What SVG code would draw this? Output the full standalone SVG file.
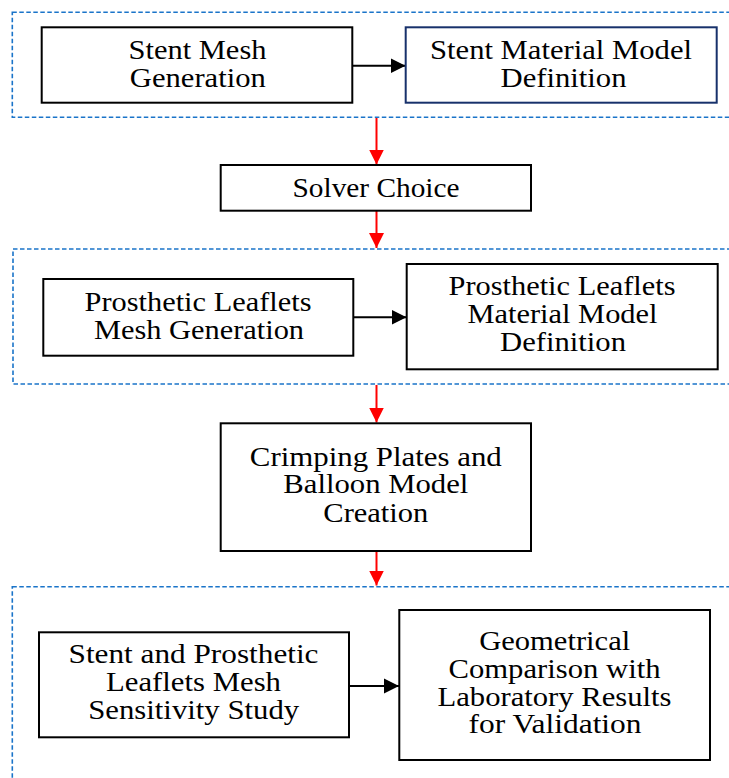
<svg xmlns="http://www.w3.org/2000/svg" width="729" height="778" viewBox="0 0 729 778">
<style>
.grp{fill:none;stroke:#1a74c9;stroke-width:1.6;stroke-dasharray:4.5 2.5}
.box{fill:#fff;stroke:#000;stroke-width:2}
.navy{fill:#fff;stroke:#17316b;stroke-width:2}
text{font-family:'Liberation Serif','DejaVu Serif',serif;font-size:28px;fill:#000;text-anchor:middle}
.blk{stroke:#000;stroke-width:2;fill:none}
.red{stroke:#ff0000;stroke-width:2;fill:none}
</style>
<defs>
<marker id="ab" markerUnits="userSpaceOnUse" markerWidth="16" markerHeight="16" refX="15" refY="8" orient="auto">
<path d="M0,0.5 L15,8 L0,15.5 Z" fill="#000"/>
</marker>
<marker id="ar" markerUnits="userSpaceOnUse" markerWidth="16" markerHeight="16" refX="15" refY="8" orient="auto">
<path d="M0,0.5 L15,8 L0,15.5 Z" fill="#ff0000"/>
</marker>
</defs>
<rect width="729" height="778" fill="#fff"/>
<g id="groups">
<rect class="grp" x="12.3" y="12.3" width="740" height="105"/>
<rect class="grp" x="13" y="249" width="740" height="135"/>
<rect class="grp" x="12.3" y="586.7" width="740" height="220"/>
</g>
<g id="connectors">
<line class="blk" x1="352" y1="65.7" x2="405.5" y2="65.7" marker-end="url(#ab)"/>
<line class="blk" x1="353" y1="317.3" x2="406.5" y2="317.3" marker-end="url(#ab)"/>
<line class="blk" x1="349" y1="686" x2="399" y2="686" marker-end="url(#ab)"/>
<line class="red" x1="376.5" y1="118" x2="376.5" y2="164.5" marker-end="url(#ar)"/>
<line class="red" x1="376.5" y1="210.7" x2="376.5" y2="248" marker-end="url(#ar)"/>
<line class="red" x1="376.5" y1="385" x2="376.5" y2="422.5" marker-end="url(#ar)"/>
<line class="red" x1="376.5" y1="551" x2="376.5" y2="585.5" marker-end="url(#ar)"/>
</g>
<g id="n1">
<rect class="box" x="41.7" y="27.3" width="310.6" height="75.4"/>
<text x="197.5" y="59.3" textLength="138" lengthAdjust="spacingAndGlyphs">Stent Mesh</text>
<text x="197.8" y="87.3" textLength="136" lengthAdjust="spacingAndGlyphs">Generation</text>
</g>
<g id="n2">
<rect class="navy" x="405.7" y="27.3" width="311" height="75.4"/>
<text x="561" y="59.3" textLength="262" lengthAdjust="spacingAndGlyphs">Stent Material Model</text>
<text x="563.5" y="87.3" textLength="126" lengthAdjust="spacingAndGlyphs">Definition</text>
</g>
<g id="n3">
<rect class="box" x="220.7" y="165" width="310.3" height="45.7"/>
<text x="376" y="197.3" textLength="167" lengthAdjust="spacingAndGlyphs">Solver Choice</text>
</g>
<g id="n4">
<rect class="box" x="43.3" y="279" width="310" height="76.7"/>
<text x="198" y="311" textLength="227" lengthAdjust="spacingAndGlyphs">Prosthetic Leaflets</text>
<text x="199" y="339" textLength="210" lengthAdjust="spacingAndGlyphs">Mesh Generation</text>
</g>
<g id="n5">
<rect class="box" x="406.7" y="264" width="311" height="105.3"/>
<text x="562" y="295" textLength="227" lengthAdjust="spacingAndGlyphs">Prosthetic Leaflets</text>
<text x="562.5" y="323.3" textLength="190" lengthAdjust="spacingAndGlyphs">Material Model</text>
<text x="563" y="351" textLength="126" lengthAdjust="spacingAndGlyphs">Definition</text>
</g>
<g id="n6">
<rect class="box" x="220.7" y="423.3" width="310.3" height="127.7"/>
<text x="375.8" y="466" textLength="252" lengthAdjust="spacingAndGlyphs">Crimping Plates and</text>
<text x="375.8" y="493.3" textLength="185" lengthAdjust="spacingAndGlyphs">Balloon Model</text>
<text x="375.8" y="521.7" textLength="105" lengthAdjust="spacingAndGlyphs">Creation</text>
</g>
<g id="n7">
<rect class="box" x="39" y="632.3" width="310" height="105"/>
<text x="193.5" y="663.3" textLength="250" lengthAdjust="spacingAndGlyphs">Stent and Prosthetic</text>
<text x="193.5" y="691" textLength="175" lengthAdjust="spacingAndGlyphs">Leaflets Mesh</text>
<text x="193.7" y="719.3" textLength="211" lengthAdjust="spacingAndGlyphs">Sensitivity Study</text>
</g>
<g id="n8">
<rect class="box" x="399.3" y="610" width="310.7" height="150"/>
<text x="554.7" y="650" textLength="151" lengthAdjust="spacingAndGlyphs">Geometrical</text>
<text x="554.5" y="677.7" textLength="212" lengthAdjust="spacingAndGlyphs">Comparison with</text>
<text x="554.5" y="706" textLength="234" lengthAdjust="spacingAndGlyphs">Laboratory Results</text>
<text x="555" y="733.3" textLength="173" lengthAdjust="spacingAndGlyphs">for Validation</text>
</g>
</svg>
